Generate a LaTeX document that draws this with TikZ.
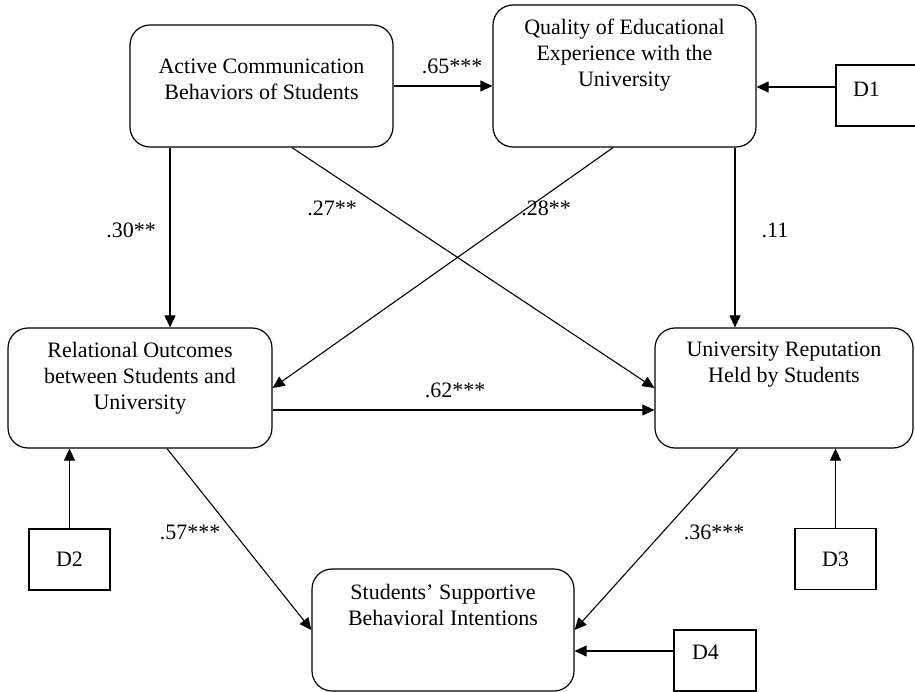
\documentclass[tikz,border=0pt]{standalone}
\usepackage{fontspec}
\setmainfont{Liberation Serif}
\usetikzlibrary{arrows.meta}
\begin{document}
\begin{tikzpicture}[x=1pt,y=-1pt,
  bigbox/.style={draw, line width=1.2pt, rounded corners=20pt, inner sep=0pt},
  dbox/.style={draw, line width=1.2pt, inner sep=0pt, minimum width=81pt, minimum height=61pt, font=\fontsize{22}{26}\selectfont},
  txt/.style={align=center, inner sep=0pt, anchor=north, font=\fontsize{22}{26}\selectfont},
  lab/.style={inner sep=0pt, font=\fontsize{22}{26}\selectfont},
  conn/.style={line width=1.1pt, -{Triangle[length=12pt,width=11pt]}}
]
\useasboundingbox (0,0) rectangle (915,692);
% boxes
\node[bigbox, minimum width=263pt, minimum height=122pt] (A) at (261.5,86) {};
\node[bigbox, minimum width=263pt, minimum height=142pt] (Q) at (624.5,76) {};
\node[bigbox, minimum width=264pt, minimum height=120pt] (R) at (140,388) {};
\node[bigbox, minimum width=258pt, minimum height=120pt] (U) at (784,388) {};
\node[bigbox, minimum width=262pt, minimum height=122pt] (S) at (443,630) {};
\node[dbox, text width=47pt, inner xsep=17pt, align=left, text height=15pt, text depth=13pt] (D1) at (876.5,95.5) {D1};
\node[dbox] (D2) at (69.5,559.5) {D2};
\node[dbox] (D3) at (835.5,559) {D3};
\node[dbox, text width=46pt, inner xsep=18pt, align=left, text height=15pt, text depth=17pt] (D4) at (715,660.5) {D4};
% box texts
\node[txt] (tA) at ([yshift=-34.5pt]A.north) {Active Communication\\Behaviors of Students};
\node[txt] (tQ) at ([yshift=-14.5pt]Q.north) {Quality of Educational\\Experience with the\\University};
\node[txt] (tR) at ([yshift=-14.5pt]R.north) {Relational Outcomes\\between Students and\\University};
\node[txt] (tU) at ([yshift=-14.5pt]U.north) {University Reputation\\Held by Students};
\node[txt] (tS) at ([yshift=-15.5pt]S.north) {Students’ Supportive\\Behavioral Intentions};
% connectors
\draw[conn] (A.east) -- (A.east -| Q.west);
\draw[conn] ([yshift=8.5pt]D1.west) -- ([yshift=8.5pt]D1.west -| Q.east);
\draw[conn] ([xshift=-91.5pt]A.south) -- ([xshift=-91.5pt]A.south |- R.north);
\draw[conn] ([xshift=30.5pt]A.south) -- (U.west);
\draw[conn] ([xshift=-11.5pt]Q.south) -- (R.east);
\draw[conn] ([xshift=110.5pt]Q.south) -- ([xshift=110.5pt]Q.south |- U.north);
\draw[conn] ([yshift=-22pt]R.east) -- ([yshift=-22pt]R.east -| U.west);
\draw[conn] (D2.north) -- (D2.north |- R.south);
\draw[conn] (D3.north) -- (D3.north |- U.south);
\draw[conn] ([xshift=27pt]R.south) -- (S.west);
\draw[conn] ([xshift=-46pt]U.south) -- (S.east);
\draw[conn] ([yshift=9.5pt]D4.west) -- ([yshift=9.5pt]D4.west -| S.east);
% labels
\node[lab] (l65) at (452,66) {.65***};
\node[lab] (l30) at (131,230) {.30**};
\node[lab] (l27) at (332,208) {.27**};
\node[lab] (l28) at (546,208) {.28**};
\node[lab] (l11) at (775,230) {.11};
\node[lab] (l62) at (455,390) {.62***};
\node[lab] (l57) at (190,532) {.57***};
\node[lab] (l36) at (714,532) {.36***};
\end{tikzpicture}
\end{document}
